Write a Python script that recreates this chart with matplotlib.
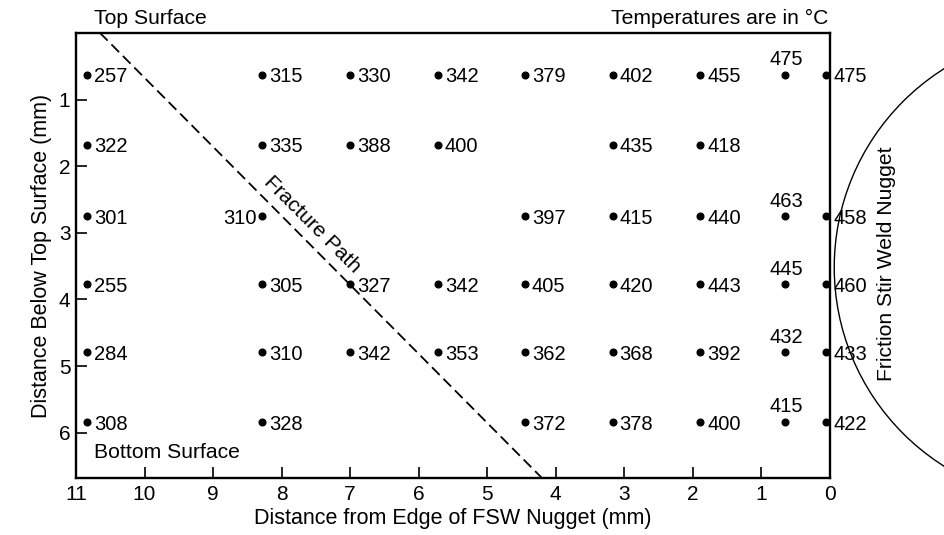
import matplotlib
matplotlib.use("Agg")
import matplotlib.pyplot as plt
from matplotlib.patches import Ellipse

#---------------------------------------#
# DATA
#---------------------------------------#
# distance from the edge of the FSW nugget (mm) for each column of thermocouples
COL_X = [10.84, 8.28, 7.0, 5.72, 4.45, 3.17, 1.89, 0.65, 0.05]
# distance below the top surface (mm) for each row
ROW_Y = [0.63, 1.68, 2.75, 3.77, 4.79, 5.84]
# peak temperatures (deg C), one list per row, None where there is no reading
TEMPS = [
    [257, 315, 330, 342, 379, 402, 455, 475, 475],
    [322, 335, 388, 400, None, 435, 418, None, None],
    [301, 310, None, None, 397, 415, 440, 463, 458],
    [255, 305, 327, 342, 405, 420, 443, 445, 460],
    [284, 310, 342, 353, 362, 368, 392, 432, 433],
    [308, 328, None, None, 372, 378, 400, 415, 422],
]
X_TICKS = [11, 10, 9, 8, 7, 6, 5, 4, 3, 2, 1, 0]
Y_TICKS = [1, 2, 3, 4, 5, 6]
# fracture path end points (x at top surface, x at bottom surface)
FRACTURE_X = [10.65, 4.20]
# nugget outline (centre x, centre y, radius x, radius y) in mm
NUGGET = (-3.51, 3.52, 3.445, 3.53)
#---------------------------------------#

#---------------------------------------#
# DISPLAY OPTIONS
#---------------------------------------#
FONT = ["Liberation Sans", "DejaVu Sans"]
X_LIM = (11, 0)
Y_LIM = (6.68, 0)
# column whose labels sit above the dot
ABOVE_COL = 7
# (row, col) of labels written left of the dot
LEFT_LABELS = [(2, 1)]
NUM_SIZE = 14.5
NOTE_SIZE = 15.2
#---------------------------------------#


"""
write the temperature next to one thermocouple dot
"""
def label_point(ax, x, y, t, row, col):
    if col == ABOVE_COL:
        ax.annotate(str(t), (x, y), xytext=(1, 4), textcoords="offset points",
                    ha="center", va="bottom", fontsize=NUM_SIZE)
    elif (row, col) in LEFT_LABELS:
        ax.annotate(str(t), (x, y), xytext=(-4, 0), textcoords="offset points",
                    ha="right", va="center_baseline", fontsize=NUM_SIZE)
    else:
        ax.annotate(str(t), (x, y), xytext=(5, 0), textcoords="offset points",
                    ha="left", va="center_baseline", fontsize=NUM_SIZE)


def main() -> None:
    plt.rcParams["font.family"] = FONT
    fig = plt.figure(figsize=(9.44, 5.35), dpi=100)
    ax = fig.add_axes([0.0805, 0.1065, 0.7985, 0.832])

    # the thermocouple dots and their temperatures
    for r, row in enumerate(TEMPS):
        for c, t in enumerate(row):
            if t is None:
                continue
            ax.plot(COL_X[c], ROW_Y[r], "o", color="black", markersize=4.8, clip_on=False)
            label_point(ax, COL_X[c], ROW_Y[r], t, r, c)

    # fracture path
    ax.plot(FRACTURE_X, Y_LIM[::-1], color="black", linestyle=(0, (6, 3)), linewidth=1.3)
    ax.text(7.55, 2.87, "Fracture Path", rotation=-45, rotation_mode="anchor",
            ha="center", va="center", fontsize=NOTE_SIZE)

    # nugget outline, drawn outside the axes
    cx, cy, rx, ry = NUGGET
    ax.add_patch(Ellipse((cx, cy), 2 * rx, 2 * ry, fill=False, edgecolor="black",
                         linewidth=1.0, clip_on=False))
    fig.text(0.9395, 0.508, "Friction Stir Weld Nugget", rotation=90,
             ha="center", va="center", fontsize=NOTE_SIZE)

    ax.set_xlim(*X_LIM)
    ax.set_ylim(*Y_LIM)
    ax.set_xticks(X_TICKS)
    ax.set_yticks(Y_TICKS)
    ax.tick_params(direction="in", length=8, width=1.2, labelsize=15, pad=5)
    ax.tick_params(axis="y", pad=4)
    for s in ax.spines.values():
        s.set_linewidth(1.7)

    ax.set_xlabel("Distance from Edge of FSW Nugget (mm)", fontsize=15.5, labelpad=3)
    ax.set_ylabel("Distance Below Top Surface (mm)", fontsize=15.5, labelpad=5)

    # surface notes
    ax.text(0.024, 1.01, "Top Surface", transform=ax.transAxes, fontsize=NOTE_SIZE,
            ha="left", va="bottom")
    ax.text(0.998, 1.01, "Temperatures are in \u00b0C", transform=ax.transAxes,
            fontsize=NOTE_SIZE, ha="right", va="bottom")
    ax.text(0.024, 0.058, "Bottom Surface", transform=ax.transAxes, fontsize=NOTE_SIZE,
            ha="left", va="center")

    fig.savefig("out.png", dpi=100)


#---------------------------------------#
main()
#---------------------------------------#
